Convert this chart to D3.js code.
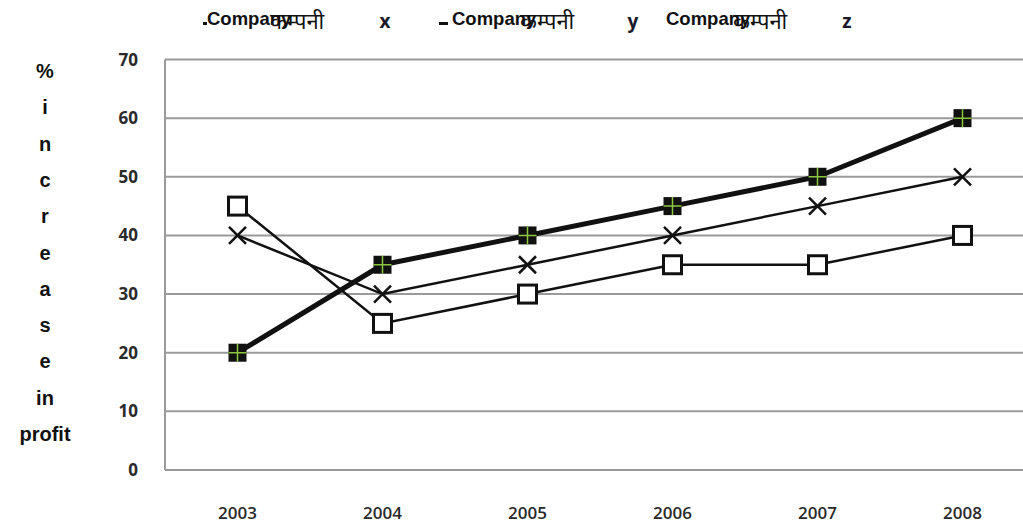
<!DOCTYPE html>
<html>
<head>
<meta charset="utf-8">
<script src="https://cdn.jsdelivr.net/npm/d3@7"></script>
<style>
  html, body { margin: 0; padding: 0; background: #fff; }
  svg { display: block; }
</style>
</head>
<body>
<svg id="chart" width="1023" height="527"></svg>
<script>
// Years on the category axis
const years = ["2003", "2004", "2005", "2006", "2007", "2008"];
// Percentage increase in profit for each company
const companyX = [40, 30, 35, 40, 45, 50];
const companyY = [20, 35, 40, 45, 50, 60];
const companyZ = [45, 25, 30, 35, 35, 40];
// Value axis ticks
const yTicks = [0, 10, 20, 30, 40, 50, 60, 70];
// Vertical axis title, one piece per line
const yTitle = ["%", "i", "n", "c", "r", "e", "a", "s", "e", "in", "profit"];
// Legend entries
const legendNames = ["x", "y", "z"];

const svg = d3.select("#chart");
const plot = { left: 165, top: 59.5, bottom: 470, right: 1023 };

const x = d3.scaleBand().domain(years).range([plot.left, plot.left + 6 * 145]);
const y = d3.scaleLinear().domain([0, 70]).range([plot.bottom, plot.top]);
const cx = d => x(d) + x.bandwidth() / 2;

// Horizontal gridlines
svg.append("g").selectAll("line").data(yTicks).join("line")
  .attr("x1", plot.left).attr("x2", plot.right)
  .attr("y1", d => y(d)).attr("y2", d => y(d))
  .attr("stroke", "#9a9a9a").attr("stroke-width", 2);
// Left border
svg.append("line")
  .attr("x1", plot.left).attr("x2", plot.left)
  .attr("y1", y(70)).attr("y2", y(0))
  .attr("stroke", "#9a9a9a").attr("stroke-width", 2);

// Y tick labels
svg.append("g").selectAll("text").data(yTicks).join("text")
  .attr("x", 138).attr("y", d => y(d) + 6)
  .attr("text-anchor", "end")
  .attr("font-family", "'Open Sans', sans-serif")
  .attr("font-weight", 700).attr("font-size", 17)
  .attr("fill", "#2a2a2a")
  .text(d => d);

// X tick labels
svg.append("g").selectAll("text").data(years).join("text")
  .attr("x", d => cx(d)).attr("y", 519)
  .attr("text-anchor", "middle")
  .attr("font-family", "'Open Sans', sans-serif")
  .attr("font-weight", 600).attr("font-size", 17)
  .attr("fill", "#2a2a2a")
  .text(d => d);

// Vertical axis title
svg.append("g").selectAll("text").data(yTitle).join("text")
  .attr("x", 45).attr("y", (d, i) => 78 + i * 36.3)
  .attr("text-anchor", "middle")
  .attr("font-family", "'Liberation Sans', Arial, sans-serif")
  .attr("font-weight", "bold").attr("font-size", 20)
  .attr("fill", "#111")
  .text(d => d);

// Lines
const line = vals => d3.line().x((d, i) => cx(years[i])).y(d => y(d))(vals);
svg.append("path").attr("d", line(companyZ)).attr("fill", "none")
  .attr("stroke", "#111").attr("stroke-width", 2.5);
svg.append("path").attr("d", line(companyX)).attr("fill", "none")
  .attr("stroke", "#111").attr("stroke-width", 2.5);
svg.append("path").attr("d", line(companyY)).attr("fill", "none")
  .attr("stroke", "#111").attr("stroke-width", 5).attr("stroke-linejoin", "round");

// Company z markers: open squares
svg.append("g").selectAll("rect").data(companyZ).join("rect")
  .attr("x", (d, i) => cx(years[i]) - 9).attr("y", d => y(d) - 9)
  .attr("width", 18).attr("height", 18)
  .attr("fill", "#fff").attr("stroke", "#111").attr("stroke-width", 3);

// Company x markers: crosses
const crosses = svg.append("g").selectAll("g").data(companyX).join("g")
  .attr("transform", (d, i) => `translate(${cx(years[i])},${y(d)})`);
crosses.append("path").attr("d", "M-8.5,-8.5L8.5,8.5M-8.5,8.5L8.5,-8.5")
  .attr("stroke", "#111").attr("stroke-width", 2.5).attr("fill", "none");

// Company y markers: filled squares with a green plus
const sq = svg.append("g").selectAll("g").data(companyY).join("g")
  .attr("transform", (d, i) => `translate(${cx(years[i])},${y(d)})`);
sq.append("rect").attr("x", -9).attr("y", -9).attr("width", 18).attr("height", 18)
  .attr("fill", "#111");
sq.append("path").attr("d", "M-9,0H9M0,-9V9")
  .attr("stroke", "#8cc63f").attr("stroke-width", 1.5);

// Legend
const legendX = [207, 452, 666];
const legendHindiX = [270, 520, 733];
const legendLetterX = [385, 633, 847];
const leg = svg.append("g");
legendNames.forEach((name, i) => {
  leg.append("text")
    .attr("x", legendHindiX[i]).attr("y", 29)
    .attr("font-family", "'Noto Sans', 'Noto Sans Devanagari', sans-serif")
    .attr("font-size", 22).attr("fill", "#111")
    .text("कम्पनी");
  leg.append("text")
    .attr("x", legendX[i]).attr("y", 25)
    .attr("font-family", "'Liberation Sans', Arial, sans-serif")
    .attr("font-weight", "bold").attr("font-size", 18.5).attr("fill", "#111")
    .text("Company");
  leg.append("text")
    .attr("x", legendLetterX[i]).attr("y", 28)
    .attr("text-anchor", "middle")
    .attr("font-family", "'Open Sans', sans-serif")
    .attr("font-weight", 700).attr("font-size", 19).attr("fill", "#1a1a2a")
    .text(name);
});
// Legend line stubs
leg.append("rect").attr("x", 203).attr("y", 22).attr("width", 4).attr("height", 3).attr("fill", "#111");
leg.append("rect").attr("x", 439).attr("y", 22).attr("width", 9).attr("height", 3).attr("fill", "#111");
</script>
</body>
</html>
